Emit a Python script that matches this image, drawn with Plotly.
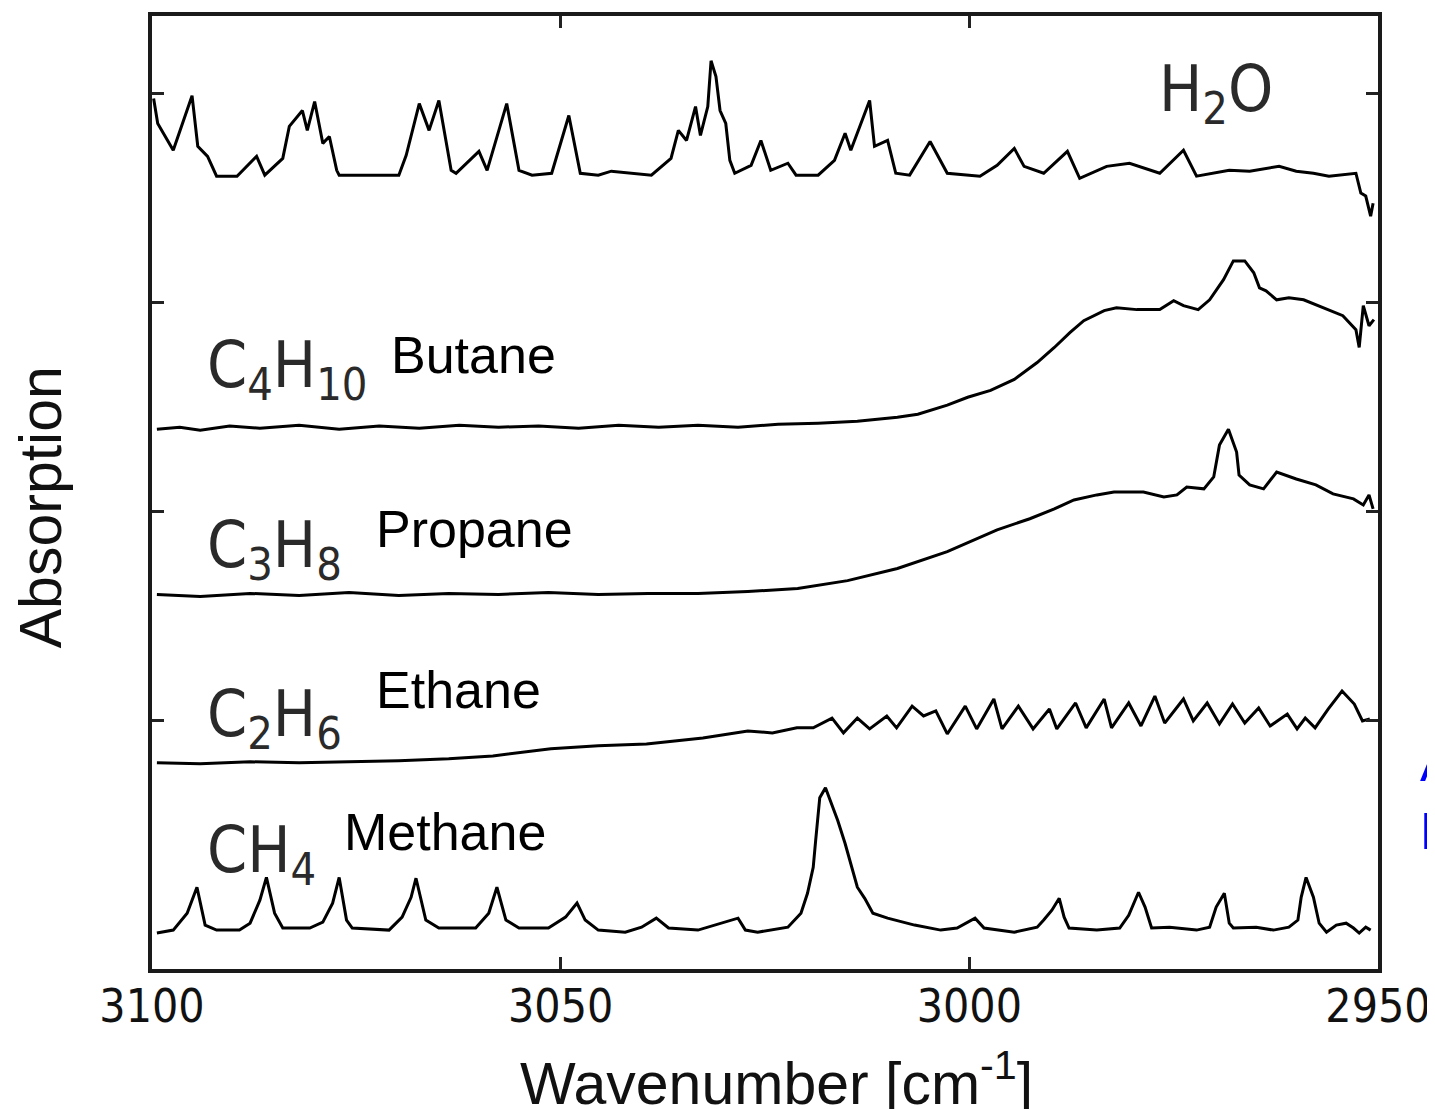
import plotly.graph_objects as go

# ---- data (wavenumber [cm^-1], absorption [a.u., offset]) ----
H2O = [(3099.8, 3.976), (3099.3, 3.857), (3097.4, 3.729), (3096.2, 3.871), (3095.1, 3.990),
       (3094.4, 3.748), (3093.2, 3.700), (3092.1, 3.605), (3089.6, 3.605), (3087.2, 3.700),
       (3086.2, 3.610), (3084.0, 3.690), (3083.2, 3.843), (3081.6, 3.919), (3081.0, 3.824),
       (3080.1, 3.962), (3079.1, 3.762), (3078.3, 3.795), (3077.4, 3.633), (3077.1, 3.610),
       (3069.8, 3.610), (3068.9, 3.705), (3067.3, 3.952), (3066.1, 3.824), (3064.9, 3.967),
       (3063.4, 3.633), (3062.8, 3.619), (3060.0, 3.724), (3059.0, 3.633), (3056.6, 3.952),
       (3055.1, 3.633), (3053.5, 3.610), (3051.1, 3.619), (3049.0, 3.895), (3047.6, 3.619),
       (3045.4, 3.610), (3043.8, 3.629), (3038.9, 3.610), (3036.5, 3.690), (3035.6, 3.824),
       (3034.6, 3.776), (3033.5, 3.938), (3032.9, 3.800), (3032.0, 3.938), (3031.6, 4.157),
       (3031.0, 4.081), (3030.5, 3.919), (3029.8, 3.857), (3029.3, 3.681), (3028.7, 3.619),
       (3026.7, 3.657), (3025.5, 3.776), (3024.3, 3.633), (3022.2, 3.667), (3021.2, 3.610),
       (3018.5, 3.610), (3016.5, 3.681), (3015.2, 3.810), (3014.5, 3.729), (3012.2, 3.967),
       (3011.6, 3.748), (3010.0, 3.776), (3009.0, 3.619), (3007.3, 3.610), (3004.8, 3.771),
       (3002.7, 3.619), (2998.7, 3.605), (2996.6, 3.657), (2994.5, 3.738), (2993.3, 3.652),
       (2990.9, 3.619), (2988.0, 3.724), (2986.5, 3.595), (2983.2, 3.652), (2980.4, 3.667),
       (2976.7, 3.619), (2973.8, 3.729), (2972.2, 3.605), (2968.2, 3.633), (2965.7, 3.629),
       (2962.1, 3.652), (2960.0, 3.629), (2957.9, 3.619), (2956.0, 3.605), (2952.7, 3.619),
       (2952.1, 3.524), (2951.5, 3.510), (2950.9, 3.414), (2950.6, 3.476)]

BUTANE = [(3099.4, 2.395), (3096.6, 2.405), (3094.1, 2.390), (3090.5, 2.410), (3086.8, 2.400),
          (3082.0, 2.414), (3077.1, 2.395), (3072.2, 2.410), (3067.3, 2.400), (3062.4, 2.414),
          (3057.6, 2.405), (3052.7, 2.410), (3047.8, 2.400), (3042.9, 2.414), (3038.0, 2.405),
          (3033.2, 2.414), (3028.3, 2.405), (3023.4, 2.419), (3018.5, 2.424), (3013.7, 2.433),
          (3008.8, 2.452), (3006.3, 2.467), (3002.7, 2.510), (3000.2, 2.548), (2997.4, 2.581),
          (2994.5, 2.633), (2991.7, 2.714), (2989.6, 2.786), (2987.7, 2.857), (2986.0, 2.914),
          (2983.5, 2.962), (2982.0, 2.976), (2979.5, 2.967), (2976.7, 2.967), (2975.0, 3.010),
          (2973.8, 2.986), (2972.0, 2.967), (2970.6, 3.014), (2968.9, 3.110), (2967.7, 3.200),
          (2966.3, 3.200), (2965.2, 3.143), (2964.5, 3.071), (2963.7, 3.057), (2962.4, 3.014),
          (2960.9, 3.024), (2959.1, 3.014), (2957.6, 2.990), (2956.0, 2.967), (2954.3, 2.938),
          (2952.7, 2.871), (2952.3, 2.786), (2951.8, 2.986), (2951.1, 2.890), (2950.5, 2.919)]

PROPANE = [(3099.4, 1.605), (3094.1, 1.595), (3088.0, 1.610), (3082.0, 1.600), (3075.9, 1.614),
           (3069.8, 1.600), (3063.7, 1.610), (3057.6, 1.605), (3051.5, 1.614), (3045.4, 1.605),
           (3039.3, 1.610), (3033.2, 1.610), (3027.1, 1.619), (3021.0, 1.633), (3014.9, 1.671),
           (3008.8, 1.729), (3002.7, 1.810), (2996.6, 1.914), (2992.6, 1.967), (2989.6, 2.014),
           (2987.2, 2.057), (2984.4, 2.081), (2982.3, 2.095), (2978.7, 2.095), (2976.2, 2.071),
           (2974.6, 2.081), (2973.4, 2.119), (2971.3, 2.110), (2970.1, 2.167), (2969.4, 2.319),
           (2968.3, 2.395), (2967.3, 2.286), (2967.0, 2.176), (2965.7, 2.129), (2964.0, 2.110),
           (2962.4, 2.190), (2960.0, 2.157), (2957.6, 2.129), (2955.5, 2.086), (2953.0, 2.062),
           (2951.8, 2.033), (2951.1, 2.081), (2950.6, 2.014)]

ETHANE = [(3099.4, 0.800), (3094.1, 0.795), (3088.0, 0.805), (3082.0, 0.800), (3075.9, 0.805),
          (3069.8, 0.810), (3063.7, 0.819), (3058.3, 0.833), (3051.2, 0.867), (3045.4, 0.881),
          (3039.5, 0.890), (3032.6, 0.919), (3027.1, 0.952), (3024.1, 0.943), (3021.1, 0.967),
          (3019.1, 0.967), (3016.8, 1.014), (3015.4, 0.943), (3013.7, 1.014), (3012.2, 0.962),
          (3010.1, 1.024), (3008.9, 0.967), (3007.0, 1.071), (3005.6, 1.024), (3004.1, 1.048),
          (3002.7, 0.938), (3000.5, 1.071), (2999.1, 0.962), (2997.0, 1.105), (2996.0, 0.962),
          (2994.0, 1.071), (2992.2, 0.962), (2990.2, 1.057), (2989.3, 0.962), (2987.0, 1.086),
          (2985.7, 0.967), (2983.5, 1.105), (2982.6, 0.967), (2980.5, 1.086), (2979.0, 0.976),
          (2977.3, 1.119), (2976.1, 0.990), (2973.8, 1.105), (2972.6, 1.000), (2970.9, 1.086),
          (2969.4, 0.986), (2967.8, 1.081), (2966.3, 0.990), (2964.6, 1.062), (2963.2, 0.976),
          (2961.1, 1.033), (2959.9, 0.962), (2958.9, 1.014), (2957.7, 0.967), (2956.1, 1.057),
          (2954.4, 1.143), (2952.9, 1.081), (2951.9, 1.000), (2951.0, 1.010)]

METHANE = [(3099.4, -0.014), (3097.4, 0.000), (3095.7, 0.081), (3094.5, 0.205), (3093.5, 0.024),
           (3092.1, 0.000), (3089.3, 0.000), (3088.0, 0.033), (3086.8, 0.143), (3086.0, 0.252),
           (3085.0, 0.081), (3084.0, 0.010), (3080.7, 0.010), (3079.1, 0.038), (3077.9, 0.129),
           (3077.1, 0.252), (3076.2, 0.048), (3075.5, 0.010), (3071.0, 0.000), (3069.4, 0.062),
           (3068.3, 0.157), (3067.7, 0.248), (3066.5, 0.048), (3064.9, 0.010), (3060.4, 0.010),
           (3058.8, 0.081), (3057.8, 0.205), (3056.7, 0.048), (3055.1, 0.010), (3051.5, 0.010),
           (3049.4, 0.062), (3048.0, 0.129), (3047.0, 0.048), (3045.4, 0.000), (3042.1, -0.010),
           (3040.1, 0.014), (3038.3, 0.057), (3036.8, 0.010), (3033.2, 0.000), (3030.4, 0.033),
           (3028.3, 0.057), (3027.4, 0.000), (3025.9, -0.010), (3022.2, 0.014), (3020.6, 0.081),
           (3019.8, 0.176), (3019.1, 0.300), (3018.8, 0.429), (3018.3, 0.633), (3017.6, 0.681),
           (3017.0, 0.619), (3016.1, 0.524), (3015.2, 0.414), (3014.5, 0.319), (3013.7, 0.205),
           (3012.8, 0.152), (3011.8, 0.081), (3010.0, 0.057), (3006.7, 0.024), (3003.5, 0.000),
           (3001.5, 0.010), (2999.3, 0.057), (2998.2, 0.010), (2994.5, -0.010), (2991.7, 0.014),
           (2990.9, 0.048), (2989.9, 0.095), (2989.0, 0.152), (2988.4, 0.062), (2987.8, 0.010),
           (2984.4, 0.000), (2981.6, 0.010), (2980.5, 0.071), (2979.3, 0.181), (2978.5, 0.110),
           (2977.7, 0.010), (2975.5, 0.014), (2972.2, 0.000), (2970.6, 0.014), (2969.8, 0.110),
           (2968.8, 0.176), (2968.2, 0.033), (2967.7, 0.010), (2964.9, 0.014), (2962.8, 0.000),
           (2960.9, 0.014), (2959.8, 0.048), (2959.4, 0.157), (2958.8, 0.252), (2957.9, 0.157),
           (2957.2, 0.033), (2956.3, -0.010), (2955.1, 0.024), (2953.9, 0.033), (2953.0, 0.010),
           (2952.3, -0.014), (2951.5, 0.014), (2950.9, 0.000)]

SERIES = [("H2O", H2O), ("Butane", BUTANE), ("Propane", PROPANE), ("Ethane", ETHANE), ("Methane", METHANE)]

X_TICKS = [3100, 3050, 3000, 2950]
Y_TICKS = [1, 2, 3, 4]

# labels: (text, wavenumber of left edge, absorption level of centre, kind)
LABELS = [
    ("H<sub>2</sub>O", 2977.1, 4.00, "formula"),
    ("C<sub>4</sub>H<sub>10</sub>", 3093.5, 2.68, "formula"),
    ("Butane", 3071.0, 2.75, "name"),
    ("C<sub>3</sub>H<sub>8</sub>", 3093.5, 1.82, "formula"),
    ("Propane", 3072.8, 1.92, "name"),
    ("C<sub>2</sub>H<sub>6</sub>", 3093.5, 1.01, "formula"),
    ("Ethane", 3072.8, 1.15, "name"),
    ("CH<sub>4</sub>", 3093.5, 0.36, "formula"),
    ("Methane", 3076.7, 0.47, "name"),
]

# text cut off at the right edge of the page
EDGE_TEXT = "A<br>E"

CONDENSED = "DejaVu Sans Condensed, DejaVu Sans, sans-serif"
SANS = "Liberation Sans, Arial, Helvetica, sans-serif"

fig = go.Figure()
for name, pts in SERIES:
    fig.add_trace(go.Scatter(
        x=[p[0] for p in pts], y=[p[1] for p in pts], mode="lines", name=name,
        line=dict(color="#000000", width=3), showlegend=False, hoverinfo="skip"))

annotations = []
for text, xw, yv, kind in LABELS:
    if kind == "formula":
        font = dict(family=CONDENSED, size=64, color="#2a2a2a")
    else:
        font = dict(family=SANS, size=52, color="#000000")
    annotations.append(dict(text=text, x=xw, y=yv, xref="x", yref="y",
                            xanchor="left", yanchor="middle", showarrow=False, font=font))

# axis titles
annotations.append(dict(text="Wavenumber [cm<sup>-1</sup>]", x=0.509, y=-0.116, xref="paper", yref="paper",
                        xanchor="center", yanchor="middle", showarrow=False,
                        font=dict(family=SANS, size=59, color="#111111")))
annotations.append(dict(text="Absorption", x=-0.091, y=0.485, xref="paper", yref="paper",
                        xanchor="center", yanchor="middle", textangle=-90, showarrow=False,
                        font=dict(family=SANS, size=59, color="#111111")))
annotations.append(dict(text=EDGE_TEXT, x=1.033, y=0.181, xref="paper", yref="paper",
                        xanchor="left", yanchor="middle", align="left", showarrow=False,
                        font=dict(family=SANS, size=52, color="#0000ff")))

# the page body has an 8px margin, so the figure is made 8px smaller and margins shifted
fig.update_layout(
    width=1427, height=1101,
    margin=dict(l=144, r=54, t=4, b=140),
    paper_bgcolor="white", plot_bgcolor="white",
    annotations=annotations,
    xaxis=dict(range=[3100, 2950], tickvals=X_TICKS, ticktext=[str(v) for v in X_TICKS],
               ticks="inside", ticklen=12, tickwidth=3, tickcolor="#222222",
               showline=True, linewidth=4, linecolor="#1a1a1a", mirror="ticks",
               showgrid=False, zeroline=False, ticklabeloverflow="allow",
               ticklabelstandoff=-6,
               tickfont=dict(family=CONDENSED, size=46, color="#111111")),
    yaxis=dict(range=[-0.186, 4.371], tickvals=Y_TICKS, showticklabels=False,
               ticks="inside", ticklen=12, tickwidth=3, tickcolor="#222222",
               showline=True, linewidth=4, linecolor="#1a1a1a", mirror="ticks",
               showgrid=False, zeroline=False),
)

fig.write_html("out.html")
